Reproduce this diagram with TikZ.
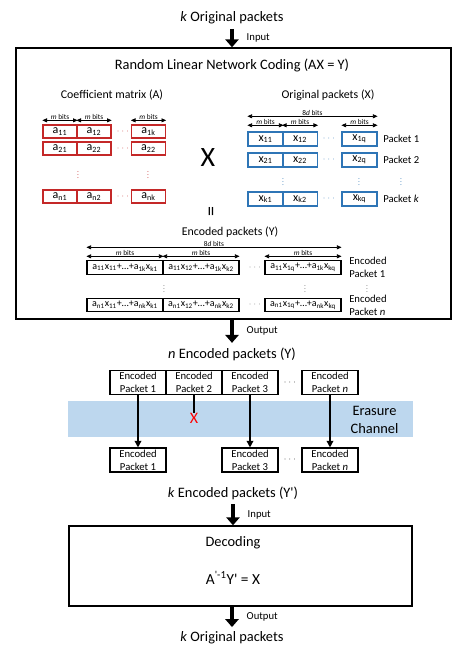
\documentclass[tikz,border=0pt]{standalone}
\usepackage{fontspec}
\setmainfont{Carlito}
\usepackage{tikz}
\usetikzlibrary{arrows.meta,positioning}
\definecolor{cellred}{RGB}{196,40,40}
\definecolor{cellblue}{RGB}{46,117,182}
\definecolor{chanblue}{RGB}{189,215,238}
\def\ent#1#2{#1\textsubscript{#2}}
\def\enc#1#2#3#4{a\textsubscript{#1}x\textsubscript{#2}+\dots+a\textsubscript{#3}x\textsubscript{#4}}
\tikzset{
  lbl/.style={font=\fontsize{10.8}{13}\selectfont},
  sublbl/.style={font=\fontsize{8.9}{11}\selectfont},
  io/.style={font=\fontsize{8}{9}\selectfont, anchor=west, inner sep=0pt, xshift=9.75pt},
  acell/.style={draw=cellred, line width=1pt, minimum width=25.5pt, minimum height=9.75pt, inner sep=0pt, font=\fontsize{9}{10}\selectfont},
  xcell/.style={draw=cellblue, line width=1.1pt, minimum width=26pt, minimum height=10.5pt, inner sep=0pt, font=\fontsize{9}{10}\selectfont},
  ycell/.style={draw, line width=0.8pt, minimum width=57pt, minimum height=10pt, inner sep=0pt, font=\fontsize{7.5}{8}\selectfont},
  pkt/.style={draw, line width=0.8pt, minimum width=42pt, minimum height=18pt, inner sep=0pt, align=center, font=\fontsize{8}{9.5}\selectfont},
  rowlbl/.style={font=\fontsize{8}{9.75}\selectfont, anchor=west, align=left, inner sep=0pt},
  bigarrow/.style={line width=2.6pt, -{Triangle[width=10pt,length=6pt]}},
  flow/.style={line width=1pt, -{Triangle[width=5pt,length=5pt]}},
  dimarrow/.style={line width=0.6pt, {Triangle[width=3pt,length=3.5pt]}-{Triangle[width=3pt,length=3.5pt]}},
  dimlbl/.style={font=\fontsize{5.5}{6}\selectfont, inner sep=0.4pt, above, midway},
  hdots/.style={font=\fontsize{6}{7}\selectfont, inner sep=0pt},
  vdot/.style={scale=0.55, inner sep=0pt},
}
\begin{document}
\begin{tikzpicture}[x=0.75pt,y=-0.75pt]
\useasboundingbox (0,0) rectangle (457,658);
% channel band
\fill[chanblue] (68,401) rectangle (413,437);

% encoder
\node[lbl] (orig) at (232,18) {\textit{k} Original packets};
\node[draw, line width=1.1pt, minimum width=326.25pt, minimum height=203.25pt] (rlnc) at (233.5,183.5) {};
\draw[bigarrow] (orig.south) -- (orig.south |- rlnc.north) node[io, midway] {Input};
\node[lbl] (title) at (232,65) {Random Linear Network Coding (AX = Y)};
\node[sublbl] (alabel) at (112,95) {Coefficient matrix (A)};
\node[sublbl] (xlabel) at (328,95) {Original packets (X)};

% coefficient matrix
\node[acell] (a11) at (60,131.5) {\ent{a}{11}};
\node[acell] (a12) at (94,131.5) {\ent{a}{12}};
\node[acell] (a1k) at (148.5,131.5) {\ent{a}{1k}};
\node[acell] (a21) at (60,148.5) {\ent{a}{21}};
\node[acell] (a22) at (94,148.5) {\ent{a}{22}};
\node[acell] (a2k) at (148.5,148.5) {\ent{a}{22}};
\node[acell] (an1) at (60,196.5) {\ent{a}{n1}};
\node[acell] (an2) at (94,196.5) {\ent{a}{n2}};
\node[acell] (ank) at (148.5,196.5) {\ent{a}{nk}};
\node[hdots, text=cellred] (adots1) at (123,131.5) {$\cdots$};
\node[hdots, text=cellred] (adots2) at (123,148.5) {$\cdots$};
\node[hdots, text=cellred] (adotsn) at (123,196.5) {$\cdots$};
\node[vdot, text=cellred] (avdots1) at (78,173) {\vdots};
\node[vdot, text=cellred] (avdots2) at (148,173) {\vdots};
\draw[dimarrow] ([yshift=3pt]a11.north west) -- ([yshift=3pt]a11.north east) node[dimlbl] {\textit{m} bits};
\draw[dimarrow] ([yshift=3pt]a12.north west) -- ([yshift=3pt]a12.north east) node[dimlbl] {\textit{m} bits};
\draw[dimarrow] ([yshift=3pt]a1k.north west) -- ([yshift=3pt]a1k.north east) node[dimlbl] {\textit{m} bits};

\node[font=\fontsize{21}{24}\selectfont] (times) at (208,158) {X};
\node[rotate=90, font=\fontsize{15}{17}\selectfont] (equals) at (213,212) {=};

% original packets
\node[xcell] (x11) at (265.5,139) {\ent{x}{11}};
\node[xcell] (x12) at (300,139) {\ent{x}{12}};
\node[xcell] (x1q) at (359.5,139) {\ent{x}{1q}};
\node[xcell] (x21) at (265.5,160) {\ent{x}{21}};
\node[xcell] (x22) at (300,160) {\ent{x}{22}};
\node[xcell] (x2q) at (359.5,160) {\ent{x}{2q}};
\node[xcell] (xk1) at (265.5,199) {\ent{x}{k1}};
\node[xcell] (xk2) at (300,199) {\ent{x}{k2}};
\node[xcell] (xkq) at (359.5,199) {\ent{x}{kq}};
\node[hdots, text=cellblue] (xdots1) at (329,139) {$\cdots$};
\node[hdots, text=cellblue] (xdots2) at (329,160) {$\cdots$};
\node[hdots, text=cellblue] (xdotsk) at (329,199) {$\cdots$};
\node[vdot, text=cellblue] (xvdots1) at (283,180) {\vdots};
\node[vdot, text=cellblue] (xvdots2) at (359,180) {\vdots};
\node[vdot, text=cellblue] (xvdots3) at (401,180) {\vdots};
\node[rowlbl] (pk1) at (383,139) {Packet 1};
\node[rowlbl] (pk2) at (383,160) {Packet 2};
\node[rowlbl] (pkk) at (383,199) {Packet \textit{k}};
\draw[dimarrow] ([yshift=11.25pt]x11.north west) -- ([yshift=11.25pt]x1q.north east) node[dimlbl] {8\textit{d} bits};
\draw[dimarrow] ([yshift=4.5pt]x11.north west) -- ([yshift=4.5pt]x11.north east) node[dimlbl] {\textit{m} bits};
\draw[dimarrow] ([yshift=4.5pt]x12.north west) -- ([yshift=4.5pt]x12.north east) node[dimlbl] {\textit{m} bits};
\draw[dimarrow] ([yshift=4.5pt]x1q.north west) -- ([yshift=4.5pt]x1q.north east) node[dimlbl] {\textit{m} bits};

% encoded packets
\node[sublbl] (ylabel) at (230,232) {Encoded packets (Y)};
\node[ycell] (y11) at (125,267.5) {\enc{11}{11}{1k}{k1}};
\node[ycell] (y12) at (201,267.5) {\enc{11}{12}{1k}{k2}};
\node[ycell] (y1q) at (303,267.5) {\enc{11}{1q}{1k}{kq}};
\node[ycell] (yn1) at (125,305) {\enc{n1}{11}{nk}{k1}};
\node[ycell] (yn2) at (201,305) {\enc{n1}{12}{nk}{k2}};
\node[ycell] (ynq) at (303,305) {\enc{n1}{1q}{nk}{kq}};
\node[hdots, text=black!60] (ydots1) at (255,267.5) {$\cdots$};
\node[hdots, text=black!60] (ydotsn) at (255,305) {$\cdots$};
\node[vdot, text=black!60] (yvdots1) at (164,287) {\vdots};
\node[vdot, text=black!60] (yvdots2) at (305,287) {\vdots};
\node[vdot, text=black!60] (yvdots3) at (367,287) {\vdots};
\node[rowlbl] (ey1) at (349,267.5) {Encoded\\Packet 1};
\node[rowlbl] (eyn) at (349,305) {Encoded\\Packet \textit{n}};
\draw[dimarrow] ([yshift=9.75pt]y11.north west) -- ([yshift=9.75pt]y1q.north east) node[dimlbl] {8\textit{d} bits};
\draw[dimarrow] ([yshift=3pt]y11.north west) -- ([yshift=3pt]y11.north east) node[dimlbl] {\textit{m} bits};
\draw[dimarrow] ([yshift=3pt]y12.north west) -- ([yshift=3pt]y12.north east) node[dimlbl] {\textit{m} bits};
\draw[dimarrow] ([yshift=3pt]y1q.north west) -- ([yshift=3pt]y1q.north east) node[dimlbl] {\textit{m} bits};

% channel
\node[lbl] (nenc) at (232,354) {\textit{n} Encoded packets (Y)};
\draw[bigarrow] (rlnc.south -| nenc.north) -- (nenc.north) node[io, midway] {Output};
\node[pkt] (p1) at (138,382.5) {Encoded\\Packet 1};
\node[pkt] (p2) at (194,382.5) {Encoded\\Packet 2};
\node[pkt] (p3) at (250,382.5) {Encoded\\Packet 3};
\node[pkt] (pn) at (330,382.5) {Encoded\\Packet \textit{n}};
\node[hdots] (pdots) at (290,382.5) {$\cdots$};
\node[lbl, align=center] (chan) at (374.5,420) {Erasure\\Channel};
\node[pkt] (r1) at (138,460) {Encoded\\Packet 1};
\node[pkt] (r3) at (250,460) {Encoded\\Packet 3};
\node[pkt] (rn) at (330,460) {Encoded\\Packet \textit{n}};
\node[hdots] (rdots) at (290,460) {$\cdots$};
\node[text=red, inner sep=0pt, font=\fontsize{12}{14}\selectfont] (lost) at (194,418) {X};
\draw[flow] (p1.south) -- (r1.north);
\draw[line width=1pt] (p2.south) -- (lost.north);
\draw[flow] (p3.south) -- (r3.north);
\draw[flow] (pn.south) -- (rn.north);

% decoder
\node[lbl] (kenc) at (233,493) {\textit{k} Encoded packets (Y\textquotesingle)};
\node[draw, line width=1.1pt, minimum width=257.25pt, minimum height=60pt] (dec) at (240.5,566) {};
\draw[bigarrow] (kenc.south) -- (kenc.south |- dec.north) node[io, midway] {Input};
\node[lbl] (declbl) at (233,543) {Decoding};
\node[font=\fontsize{11.5}{14}\selectfont] (decfml) at (233,578) {A\textsuperscript{\textquotesingle-1}Y\textquotesingle{} = X};
\node[lbl] (korig) at (232,638) {\textit{k} Original packets};
\draw[bigarrow] (dec.south -| korig.north) -- (korig.north) node[io, midway] {Output};
\end{tikzpicture}
\end{document}
